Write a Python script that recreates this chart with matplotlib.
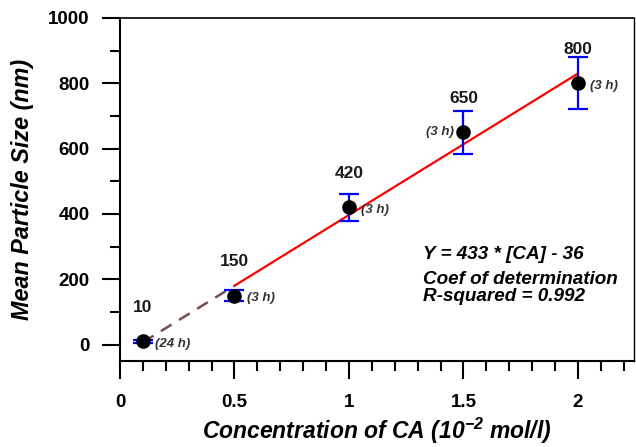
import numpy as np
import matplotlib
matplotlib.use("Agg")
import matplotlib.pyplot as plt
from matplotlib.ticker import MultipleLocator

plt.rcParams['font.family'] = ['Liberation Sans', 'DejaVu Sans']
plt.rcParams['mathtext.fontset'] = 'custom'
plt.rcParams['mathtext.rm'] = 'Liberation Sans:bold:italic'
plt.rcParams['mathtext.it'] = 'Liberation Sans:bold:italic'
plt.rcParams['mathtext.bf'] = 'Liberation Sans:bold:italic'
plt.rcParams['mathtext.default'] = 'it'

# CA concentration (10^-2 mol/l) vs mean particle size (nm)
conc = [0.1, 0.5, 1.0, 1.5, 2.0]
size = [10, 150, 420, 650, 800]
err = [5, 17, 42, 65, 80]
times = ["(24 h)", "(3 h)", "(3 h)", "(3 h)", "(3 h)"]

# linear fit reported on the chart
slope = 433
intercept = -36

fig = plt.figure(figsize=(6.36, 4.47), dpi=100)
ax = fig.add_axes([120/636, 1-361/447, 514/636, 343/447])

# fit line over the 3 h points, dashed extension down to the 24 h point
xfit = np.array([conc[1], conc[-1]])
ax.plot(xfit, slope*xfit + intercept, color='red', lw=1.6, zorder=2)
xext = np.array([conc[0], conc[1]])
ax.plot(xext, slope*xext + intercept, color='#7a4d4d', lw=1.8,
        dashes=(5, 3.5), zorder=2)

ax.errorbar(conc, size, yerr=err, fmt='o', color='black', ms=9.5,
            ecolor='blue', elinewidth=1.6, capsize=7.5, capthick=1.6, zorder=3)

for x, v, t in zip(conc, size, times):
    ax.text(x, v + 105, str(v), ha='center', va='center', fontsize=12.5,
            weight='bold', color='#1a1a1a')
    if x == 1.5:
        ax.annotate(t, (x, v), xytext=(-7, 0), textcoords='offset points',
                    ha='right', va='center', fontsize=9.5, style='italic',
                    weight='bold', color='#333333')
    else:
        ax.annotate(t, (x, v), xytext=(9, -2), textcoords='offset points',
                    ha='left', va='center', fontsize=9.5, style='italic',
                    weight='bold', color='#333333')

note = dict(fontsize=13.6, style='italic', weight='bold', va='center')
ax.text(1.325, 275, "Y = 433 * [CA] - 36", **note)
ax.text(1.325, 198, "Coef of determination", **note)
ax.text(1.325, 146, "R-squared = 0.992", **note)

ax.set_xlim(0, 2.245)
ax.set_ylim(-50, 1000)
ax.xaxis.set_minor_locator(MultipleLocator(0.1))
ax.yaxis.set_major_locator(MultipleLocator(200))
ax.yaxis.set_minor_locator(MultipleLocator(100))
ax.set_xticks([0, 0.5, 1, 1.5, 2])
ax.set_xticklabels(['0', '0.5', '1', '1.5', '2'])

ax.tick_params(which='major', direction='out', length=13, width=1.5,
               labelsize=13.5, pad=9)
ax.tick_params(which='minor', direction='out', length=7, width=1.5)
ax.tick_params(axis='x', which='major', pad=11)
for lab in ax.get_xticklabels() + ax.get_yticklabels():
    lab.set_fontweight('bold')
for sp in ax.spines.values():
    sp.set_linewidth(1.5)
ax.spines['right'].set_linewidth(1.0)
ax.spines['top'].set_linewidth(1.2)

ax.set_xlabel(r"Concentration of CA (10$^{-2}$ mol/l)", fontsize=16.5,
              style='italic', weight='bold', labelpad=3)
ax.set_ylabel("Mean Particle Size (nm)", fontsize=16.8, style='italic',
              weight='bold', labelpad=10)

fig.savefig("out.png", dpi=100)
